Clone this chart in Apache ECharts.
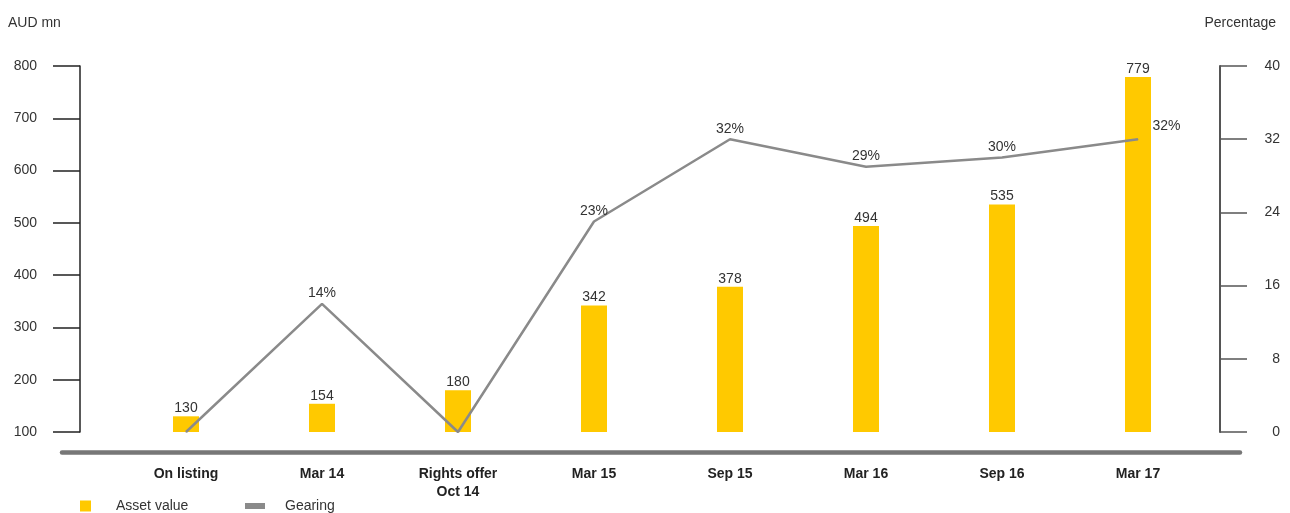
<!DOCTYPE html>
<html>
<head>
<meta charset="utf-8">
<script src="https://cdn.jsdelivr.net/npm/echarts@6/dist/echarts.min.js"></script>
<style>
    html, body { margin: 0; padding: 0; background: #fff; }
    #chart { width: 1290px; height: 513px; }
</style>
</head>
<body>
<div id="chart"></div>
<script>
// 数据
var categories = ['On listing', 'Mar 14', 'Rights offer\nOct 14', 'Mar 15', 'Sep 15', 'Mar 16', 'Sep 16', 'Mar 17'];
var assetValue = [130, 154, 180, 342, 378, 494, 535, 779];
var gearing = [0, 14, 0, 23, 32, 29, 30, 32];
var leftTicks = { min: 100, max: 800, interval: 100 };
var rightTicks = { min: 0, max: 40, interval: 8 };

var font = '"Liberation Sans", Arial, sans-serif';
var textColor = '#333';
var barColor = '#FFC900';
var lineColor = '#8a8a8a';

var chart = echarts.init(document.getElementById('chart'));

// 最后一个点的标签放在右侧
var gearingData = gearing.map(function (v, i) {
    if (i === gearing.length - 1) {
        return { value: v, label: { position: 'right', distance: 14, offset: [0, -13] } };
    }
    return v;
});

chart.setOption({
    animation: false,
    textStyle: { fontFamily: font },
    title: [{
        text: 'AUD mn',
        left: 3, top: 11,
        textStyle: { fontSize: 14, fontWeight: 'normal', color: textColor, fontFamily: font }
    }, {
        text: 'Percentage',
        right: 9, top: 11,
        textStyle: { fontSize: 14, fontWeight: 'normal', color: textColor, fontFamily: font }
    }],
    legend: [{
        data: ['Asset value'],
        left: 75, top: 494,
        icon: 'rect',
        itemWidth: 11, itemHeight: 11,
        textStyle: { fontSize: 14, color: textColor, fontFamily: font, padding: [0, 0, 0, 20] }
    }, {
        data: ['Gearing'],
        left: 240, top: 494,
        icon: 'rect',
        itemWidth: 20, itemHeight: 6,
        textStyle: { fontSize: 14, color: textColor, fontFamily: font, padding: [0, 0, 0, 15] }
    }],
    grid: [{
        left: 118, right: 84, top: 66, bottom: 81
    }, {
        left: 62, right: 50, top: 440, bottom: 61
    }],
    xAxis: [{
        type: 'category',
        gridIndex: 0,
        data: categories,
        axisLine: { show: false },
        axisTick: { show: false },
        axisLabel: {
            margin: 33,
            fontSize: 14,
            fontWeight: 'bold',
            color: '#222',
            lineHeight: 18,
            fontFamily: font
        }
    }, {
        type: 'value',
        gridIndex: 1,
        axisLine: { show: true, onZero: false, lineStyle: { color: '#777', width: 4.5 } },
        axisTick: { show: false },
        axisLabel: { show: false },
        splitLine: { show: false }
    }],
    yAxis: [{
        type: 'value',
        gridIndex: 0,
        position: 'left',
        offset: 38,
        min: leftTicks.min, max: leftTicks.max, interval: leftTicks.interval,
        axisLine: { show: true, lineStyle: { color: '#222', width: 1.5 } },
        axisTick: { show: true, length: 27, lineStyle: { color: '#222', width: 1.5 } },
        axisLabel: { margin: 43, fontSize: 14, color: textColor, fontFamily: font },
        splitLine: { show: false }
    }, {
        type: 'value',
        gridIndex: 0,
        position: 'right',
        offset: 14,
        min: rightTicks.min, max: rightTicks.max, interval: rightTicks.interval,
        axisLine: { show: true, lineStyle: { color: '#555', width: 2 } },
        axisTick: { show: true, length: 27, lineStyle: { color: '#555', width: 1.5 } },
        axisLabel: { margin: 60, align: 'right', fontSize: 14, color: textColor, fontFamily: font },
        splitLine: { show: false }
    }, {
        type: 'value',
        gridIndex: 1,
        show: false
    }],
    series: [{
        name: 'Asset value',
        type: 'bar',
        xAxisIndex: 0,
        yAxisIndex: 0,
        data: assetValue,
        barWidth: 26,
        itemStyle: { color: barColor },
        label: {
            show: true,
            position: 'top',
            distance: 1,
            fontSize: 14,
            color: textColor,
            fontFamily: font
        }
    }, {
        name: 'Gearing',
        type: 'line',
        xAxisIndex: 0,
        yAxisIndex: 1,
        data: gearingData,
        symbol: 'circle',
        symbolSize: 1,
        itemStyle: { color: lineColor },
        lineStyle: { color: lineColor, width: 2.5 },
        label: {
            show: true,
            position: 'top',
            distance: 3,
            fontSize: 14,
            color: textColor,
            fontFamily: font,
            formatter: function (p) {
                return p.value ? p.value + '%' : '';
            }
        }
    }]
});
</script>
</body>
</html>
